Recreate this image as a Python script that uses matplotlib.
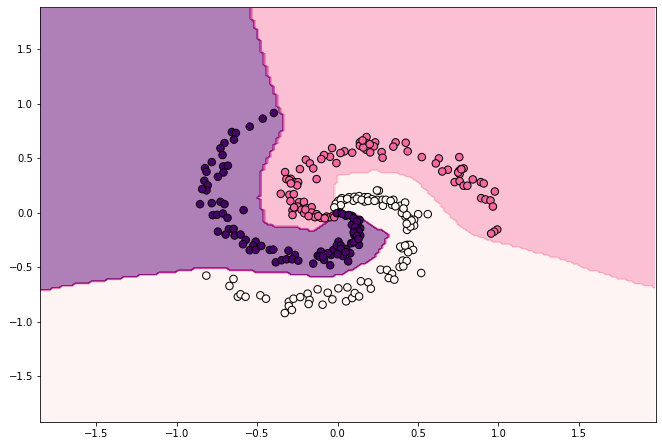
import numpy as np
import matplotlib
matplotlib.use("Agg")
import matplotlib.pyplot as plt
from matplotlib.path import Path

# points, one list per class
purple_x = [-0.396,-0.465,-0.546,-0.657,-0.632,-0.644,-0.703,-0.728,-0.715,-0.782,-0.824,-0.815,-0.711,-0.682,-0.709,-0.744,-0.828,-0.807,-0.815,-0.842,-0.855,-0.782,-0.728,-0.703,-0.584,-0.776,-0.749,-0.713,-0.684,-0.744,-0.676,-0.646,-0.696,-0.640,-0.603,-0.571,-0.588,-0.509,-0.524,-0.546,-0.509,-0.474,-0.421,-0.399,-0.305,-0.265,-0.384,-0.348,-0.317,-0.282,-0.244,-0.151,-0.123,-0.103,-0.111,-0.084,-0.046,-0.040,-0.026,0.006,-0.005,0.020,0.018,0.054,0.033,0.079,0.066,0.085,0.133,0.104,0.141,0.141,0.104,0.089,0.124,0.137,0.089,0.052,0.016,-0.005,0.03,0.07,0.10,0.12,0.11,0.13,0.10,0.12,0.02,-0.06,-0.09,0.0,0.05,0.10,0.13]
purple_y = [0.917,0.865,0.792,0.742,0.733,0.672,0.641,0.592,0.531,0.466,0.411,0.377,0.426,0.433,0.371,0.331,0.295,0.252,0.206,0.218,0.080,0.089,0.101,0.080,0.025,-0.021,-0.018,-0.006,-0.046,-0.172,-0.150,-0.147,-0.199,-0.208,-0.199,-0.248,-0.288,-0.264,-0.300,-0.343,-0.340,-0.304,-0.340,-0.337,-0.347,-0.386,-0.454,-0.435,-0.426,-0.426,-0.439,-0.466,-0.393,-0.356,-0.402,-0.432,-0.481,-0.386,-0.340,-0.264,-0.300,-0.300,-0.356,-0.331,-0.396,-0.371,-0.445,-0.279,-0.294,-0.202,-0.208,-0.141,-0.156,-0.110,-0.101,-0.064,-0.027,-0.027,0.003,-0.003,-0.01,-0.02,-0.05,-0.08,-0.13,-0.17,-0.18,-0.21,-0.33,-0.37,-0.40,-0.38,-0.36,-0.27,-0.24]

pink_x = [0.180,0.139,0.174,0.234,0.139,0.168,0.226,0.178,0.203,0.361,0.347,0.424,0.436,0.274,0.280,0.091,0.043,0.018,-0.034,-0.047,-0.084,-0.101,-0.007,-0.197,-0.172,-0.151,-0.234,-0.326,-0.318,-0.291,-0.266,-0.245,-0.251,-0.130,-0.353,-0.299,-0.272,-0.293,-0.239,-0.209,-0.280,-0.249,-0.224,-0.207,-0.191,-0.161,-0.161,-0.130,-0.141,-0.103,-0.068,-0.047,-0.026,0.524,0.630,0.611,0.757,0.686,0.651,0.784,0.768,0.755,0.759,0.728,0.759,0.784,0.807,0.841,0.891,0.909,0.978,0.893,0.920,0.951,0.966,0.993,0.974,0.955,-0.28,-0.27,-0.20,-0.18,-0.12,-0.08,-0.02,-0.30,-0.29,0.16,0.20,0.155,0.75,0.77]
pink_y = [0.696,0.647,0.644,0.647,0.617,0.611,0.611,0.580,0.555,0.647,0.608,0.644,0.565,0.558,0.506,0.552,0.565,0.549,0.595,0.515,0.531,0.494,0.457,0.488,0.454,0.408,0.402,0.374,0.310,0.313,0.282,0.282,0.252,0.310,0.175,0.166,0.172,0.108,0.098,0.101,0.022,0.058,0.028,-0.003,0.043,0.052,0.003,-0.012,-0.040,-0.046,-0.034,-0.040,-0.024,0.512,0.500,0.454,0.512,0.396,0.380,0.408,0.402,0.384,0.356,0.282,0.292,0.249,0.249,0.307,0.282,0.270,0.196,0.135,0.123,0.114,0.058,-0.153,-0.172,-0.190,-0.02,0.05,0.03,-0.03,-0.03,-0.05,-0.04,0.30,0.27,0.60,0.63,0.665,0.37,0.40]

white_x = [0.257,0.245,0.005,0.026,-0.011,0.047,0.072,0.105,0.134,0.099,0.168,0.189,0.168,0.214,0.245,0.280,0.282,0.347,0.339,0.391,0.420,0.409,0.422,0.447,0.501,0.561,0.476,0.476,0.432,0.453,-0.816,-0.647,-0.672,-0.620,-0.603,-0.572,-0.480,-0.445,-0.303,-0.274,-0.232,-0.186,-0.174,-0.180,-0.124,-0.061,-0.032,-0.093,0.005,0.061,0.053,0.091,0.107,0.134,0.145,0.191,0.207,0.268,0.307,0.339,0.318,0.353,-0.328,-0.303,-0.284,0.401,0.433,0.449,0.470,0.439,0.405,0.430,0.386,0.409,0.520,0.02,0.06,0.12,0.15,0.19,0.23,0.30,0.33,0.36,0.40,0.43,0.46,0.43,0.02,-0.02,0.41,0.39,0.42]
white_y = [0.203,0.206,0.111,0.135,0.083,0.120,0.144,0.147,0.154,0.111,0.144,0.144,0.104,0.126,0.120,0.120,0.065,0.120,0.074,0.065,0.095,0.022,-0.034,-0.049,-0.012,-0.012,-0.064,-0.116,-0.156,-0.126,-0.576,-0.607,-0.671,-0.770,-0.748,-0.770,-0.757,-0.788,-0.816,-0.788,-0.773,-0.742,-0.800,-0.837,-0.702,-0.733,-0.794,-0.843,-0.693,-0.684,-0.812,-0.782,-0.736,-0.767,-0.628,-0.638,-0.696,-0.521,-0.524,-0.561,-0.598,-0.613,-0.920,-0.855,-0.892,-0.325,-0.294,-0.294,-0.340,-0.361,-0.438,-0.441,-0.497,-0.491,-0.552,0.12,0.13,0.13,0.12,0.11,0.11,0.12,0.11,0.06,0.0,-0.02,-0.07,-0.10,0.07,0.05,0.04,-0.31,-0.30]

# class regions, outlines
purple_region = [(-1.9,2.0),(-0.55,2.0),(-0.547,1.892),(-0.536,1.807),(-0.516,1.715),(-0.495,1.607),(-0.474,1.5),(-0.443,1.316),(-0.416,1.193),(-0.391,1.086),(-0.374,0.994),(-0.344,0.887),(-0.338,0.795),(-0.353,0.733),(-0.38,0.657),(-0.405,0.58),(-0.442,0.488),(-0.469,0.39),(-0.484,0.273),(-0.484,0.15),(-0.501,0.135),(-0.484,0.12),(-0.463,-0.018),(-0.449,-0.095),(-0.39,-0.126),(-0.224,-0.141),(-0.157,-0.172),(-0.015,-0.034),(0.068,0.012),(0.131,-0.034),(0.318,-0.202),(0.297,-0.279),(0.235,-0.402),(0.152,-0.478),(0.047,-0.555),(-0.046,-0.586),(-0.151,-0.586),(-0.328,-0.555),(-0.494,-0.546),(-0.578,-0.531),(-0.703,-0.518),(-0.817,-0.506),(-0.921,-0.524),(-1.047,-0.549),(-1.151,-0.567),(-1.265,-0.585),(-1.37,-0.607),(-1.484,-0.628),(-1.588,-0.65),(-1.682,-0.668),(-1.744,-0.687),(-1.807,-0.708),(-1.9,-0.73)]
pink_region = [(-0.6,2.0),(2.1,2.0),(2.1,-0.72),(1.995,-0.693),(1.818,-0.631),(1.672,-0.57),(1.547,-0.509),(1.401,-0.432),(1.255,-0.371),(1.109,-0.309),(0.964,-0.26),(0.849,-0.211),(0.755,-0.11),(0.672,0.012),(0.568,0.181),(0.484,0.304),(0.401,0.356),(0.287,0.371),(0.224,0.39),(0.193,0.371),(0.016,0.353),(-0.001,0.328),(-0.015,0.227),(-0.019,0.12),(-0.011,0.012),(0.068,0.0),(0.0,-0.3),(-0.6,-0.3)]

xx, yy = np.meshgrid(np.arange(-1.85, 1.99, 0.02), np.arange(-1.92, 1.9, 0.02))
grid = np.c_[xx.ravel(), yy.ravel()]
Z = np.zeros(len(grid))
Z[Path(pink_region).contains_points(grid)] = 1
Z[Path(purple_region).contains_points(grid)] = 2
Z = Z.reshape(xx.shape)

fig = plt.figure(figsize=(662/72, 446/72), dpi=72)
ax = fig.add_axes([40/662, 1-422/446, 616/662, 415/446])
ax.contourf(xx, yy, Z, cmap=plt.cm.RdPu, alpha=0.5)
ax.scatter(white_x, white_y, c=[0]*len(white_x), s=56, cmap=plt.cm.RdPu, vmin=0, vmax=2, edgecolors="k")
ax.scatter(pink_x, pink_y, c=[1]*len(pink_x), s=56, cmap=plt.cm.RdPu, vmin=0, vmax=2, edgecolors="k")
ax.scatter(purple_x, purple_y, c=[2]*len(purple_x), s=56, cmap=plt.cm.RdPu, vmin=0, vmax=2, edgecolors="k")
ax.set_xlim(-1.85, 1.98)
ax.set_ylim(-1.92, 1.89)
fig.savefig("out.png", dpi=72)
